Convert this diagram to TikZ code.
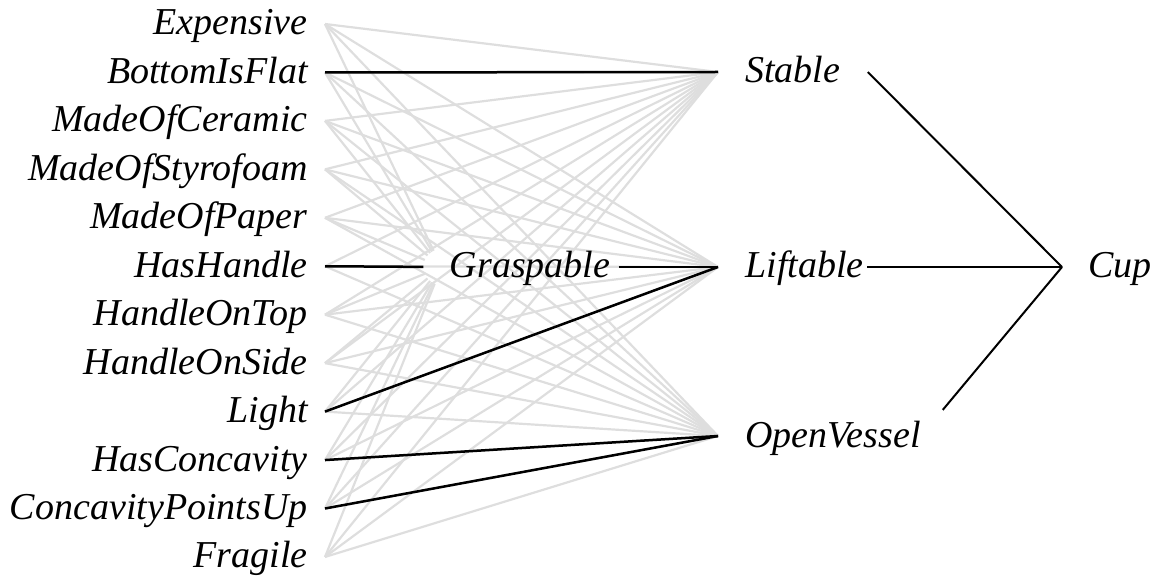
\documentclass[tikz,border=0pt]{standalone}
\usepackage{fontspec}
\setmainfont{Liberation Serif}
\usepackage{tikz}
\usetikzlibrary{backgrounds}

\begin{document}
\begin{tikzpicture}[x=0.5pt,y=-0.5pt,
    every node/.style={font=\fontsize{19}{22}\selectfont\itshape,text height=13pt,text depth=2pt},
    feat/.style={anchor=east,inner xsep=8.5pt,inner ysep=0pt},
    mid/.style={anchor=west,inner xsep=13.5pt,inner ysep=0pt},
    weak/.style={draw=black!13,line width=1.1pt},
    strong/.style={draw=black,line width=1.25pt}]
            \useasboundingbox (0,0) rectangle (1157,577);
            \foreach \lbl [count=\i] in {Expensive,BottomIsFlat,MadeOfCeramic,MadeOfStyrofoam,MadeOfPaper,HasHandle,HandleOnTop,HandleOnSide,Light,HasConcavity,ConcavityPointsUp,Fragile}
                \node[feat] (f\i) at (325,{24+48.45*(\i-1)}) {\lbl};
            \node[inner xsep=4pt,inner ysep=0pt] (gr) at (530,267) {Graspable};
            \node[mid] (st) at (718,72) {Stable};
            \node[mid] (li) at (718,267) {Liftable};
            \node[mid] (ov) at (718,436) {OpenVessel};
            \node[mid,inner xsep=13pt] (cup) at (1062,267) {Cup};
            \begin{scope}[on background layer]
            \foreach \i in {1,...,12} {
                \draw[weak,shorten >=9pt] (f\i.east) -- (gr.west);
                \draw[weak] (f\i.east) -- (st.west);
                \draw[weak] (f\i.east) -- (li.west);
                \draw[weak] (f\i.east) -- (ov.west);
            }
            \end{scope}
            \draw[strong] (f2.east) -- (st.west);
            \draw[strong,shorten >=9pt] (f6.east) -- (gr.west);
            \draw[strong] (gr.east) -- (li.west);
            \draw[strong] (f9.east) -- (li.west);
            \draw[strong] (f10.east) -- (ov.west);
            \draw[strong] (f11.east) -- (ov.west);
            \draw[strong,line width=1pt] (st.east) -- (cup.west);
            \draw[strong,line width=1pt,shorten <=-12pt] (li.east) -- (cup.west);
            \draw[strong,line width=1pt,shorten <=17pt] ([xshift=-13.5pt]ov.east) -- (cup.west);
        \end{tikzpicture}
\end{document}
